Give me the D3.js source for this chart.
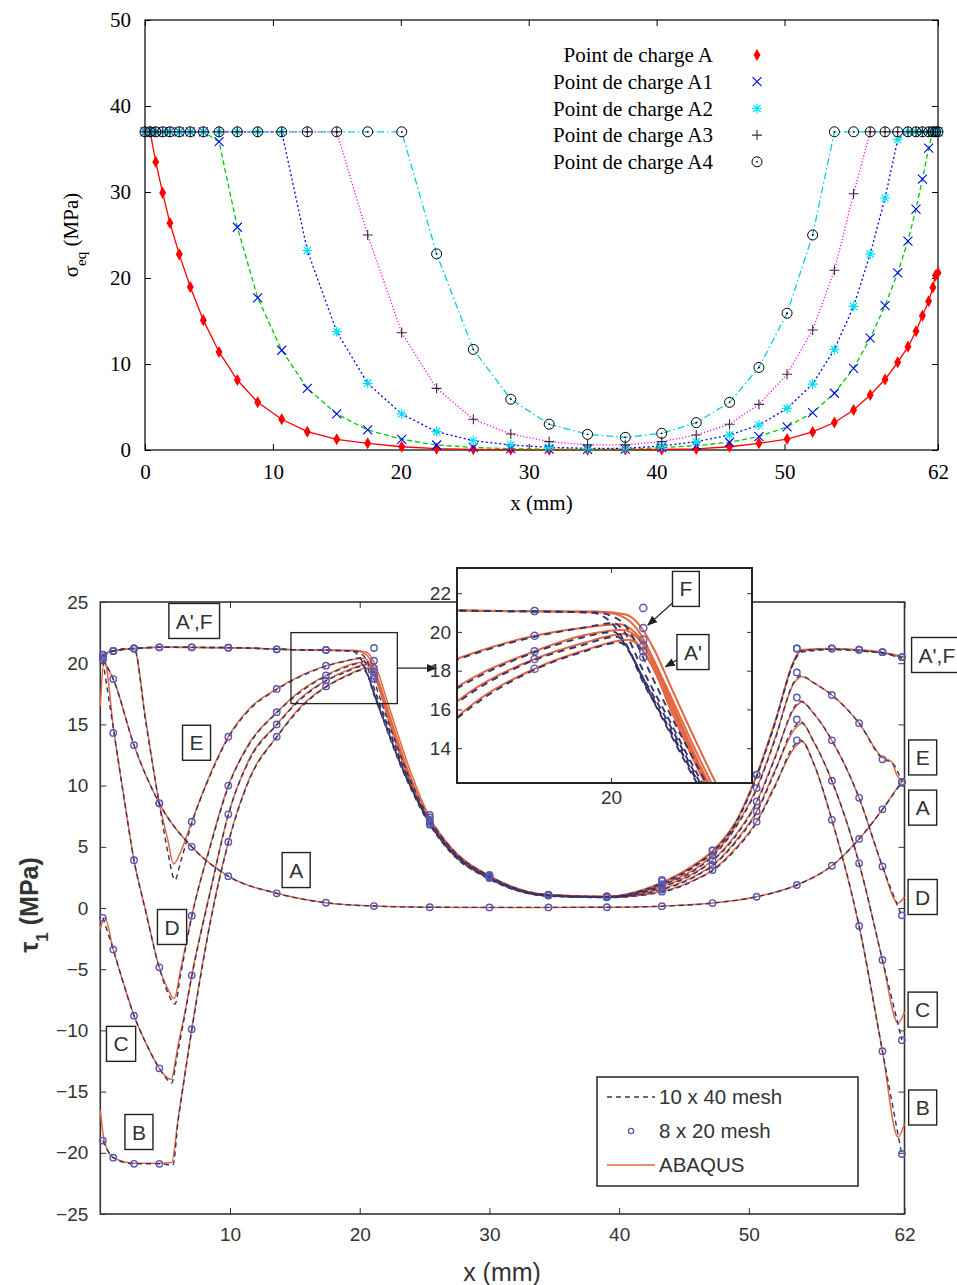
<!DOCTYPE html>
<html><head><meta charset="utf-8">
<script src="https://cdn.jsdelivr.net/npm/d3@7"></script>
<style>body{margin:0;background:#fff}svg{display:block}</style>
</head><body>
<svg id="c" width="957" height="1285"></svg>
<script>
// ---------------- TOP CHART DATA ----------------
const topX = [0,0.4,0.84,1.38,1.95,2.68,3.54,4.56,5.79,7.22,8.81,10.69,12.69,14.99,17.41,20.07,22.8,25.67,28.6,31.6,34.6,37.55,40.4,43.1,45.7,48.0,50.2,52.2,53.9,55.4,56.7,57.86,58.85,59.65,60.28,60.78,61.27,61.6,61.8,62];
const sigA  = [37,37,33.5,29.9,26.4,22.75,18.95,15.1,11.4,8.14,5.55,3.57,2.13,1.24,0.78,0.38,0.15,0.08,0.05,0.04,0.04,0.05,0.06,0.12,0.38,0.78,1.27,2.1,3.2,4.65,6.4,8.2,10.2,12.0,13.8,15.6,17.3,18.9,20.3,20.6];
const sigA1 = [37,37,37,37,37,37,37,37,35.85,25.9,17.7,11.6,7.17,4.19,2.33,1.24,0.58,0.3,0.15,0.1,0.08,0.1,0.27,0.5,0.9,1.55,2.7,4.34,6.6,9.5,13.0,16.8,20.6,24.3,28.0,31.5,35.1,37,37,37];
const sigA2 = [37,37,37,37,37,37,37,37,37,37,37,37,23.2,13.76,7.75,4.19,2.13,1.08,0.58,0.3,0.2,0.2,0.47,0.97,1.74,2.9,4.84,7.67,11.7,16.7,22.8,29.3,36.1,37,37,37,37,37,37,37];
const sigA3 = [37,37,37,37,37,37,37,37,37,37,37,37,37,37,25.0,13.64,7.17,3.57,1.86,0.97,0.6,0.6,0.97,1.74,3.0,5.3,8.8,13.95,20.9,29.8,37,37,37,37,37,37,37,37,37,37];
const sigA4 = [37,37,37,37,37,37,37,37,37,37,37,37,37,37,37,37,22.8,11.7,5.9,3.0,1.82,1.47,1.94,3.18,5.54,9.6,15.9,25.0,37,37,37,37,37,37,37,37,37,37,37,37];
const topNames = ["Point de charge A","Point de charge A1","Point de charge A2","Point de charge A3","Point de charge A4"];
const topXTicks = [0,10,20,30,40,50,62];
const topYTicks = [0,10,20,30,40,50];

// ---------------- BOTTOM CHART DATA ----------------
const abqAp = [[0,20.5],[0.4,20.8],[1,21.0],[2.6,21.2],[5,21.3],[10,21.27],[15,21.1],[19.5,21.05],[20.5,20.9],[21.0,20.3],[21.5,19.0],[22,17.3],[23,14.0],[24,10.9],[25.4,7.4],[27,5.0],[30,2.65],[34.5,1.1],[39,0.95],[43.3,2.1],[46,3.7],[47.2,4.7],[49,7.1],[50.6,10.9],[52,15.2],[53.5,20.3],[54,21.1],[56.4,21.2],[58.5,21.1],[60.3,20.9],[62,20.5]];
const abqF  = [[0,20.5],[0.4,20.8],[1,21.0],[2.6,21.2],[5,21.3],[10,21.27],[15,21.1],[19.8,21.0],[20.5,20.7],[21,19.9],[21.5,18.4],[22,16.8],[23,13.5],[24,10.5],[25.4,7.2],[27,4.9],[30,2.6],[34.5,1.08],[39,0.93],[43.3,2.0],[46,3.6],[47.2,4.6],[49,7.0],[50.6,10.8],[52,15.1],[53.5,20.2],[54,21.0],[56.4,21.15],[58.5,21.05],[60.3,20.85],[62,20.45]];
const abqE  = [[0,20.5],[0.4,20.8],[1,21.0],[2.6,21.2],[3.5,15.4],[4.55,8.55],[5.2,5.6],[5.65,3.6],[6.2,4.6],[7.05,7.05],[8.5,11.0],[9.87,14.0],[11.5,16.3],[13.6,17.9],[15.5,19.0],[17.4,19.8],[19,20.2],[20.3,20.4],[20.8,20.0],[21.3,19.0],[22,16.6],[23,13.2],[24,10.3],[25.4,7.1],[27,4.8],[30,2.55],[34.5,1.05],[39,0.92],[43.3,1.9],[46,3.3],[47.2,4.3],[49,6.7],[50.6,9.8],[52,13.8],[53.5,18.4],[54.1,18.9],[55,18.4],[56.4,17.4],[58.5,15.1],[60.3,12.3],[61,11.95],[61.5,10.7],[62,10.4]];
const abqD  = [[0,16.5],[0.3,20.3],[1.06,14.3],[1.8,9.2],[2.6,3.9],[3.5,-0.2],[4.55,-4.85],[5.2,-6.6],[5.7,-7.4],[6.2,-5.0],[7.05,-0.63],[8.5,5.2],[9.87,10.0],[11.5,13.5],[13.6,16.0],[15.5,17.8],[17.4,19.0],[19,19.8],[20.4,20.1],[20.9,19.7],[21.3,18.8],[22,16.5],[23,13.1],[24,10.2],[25.4,7.0],[27,4.75],[30,2.5],[34.5,1.03],[39,0.9],[43.3,1.75],[46,3.0],[47.2,3.9],[49,6.0],[50.6,8.7],[52,12.3],[53.5,16.3],[54.1,16.8],[55,15.9],[56.4,13.7],[58.5,9.0],[60.3,3.4],[61.5,0.4],[62,0.9]];
const abqC  = [[0,-1.7],[0.35,-0.8],[1.0,-3.4],[1.8,-6.2],[2.6,-8.8],[3.5,-11.0],[4.55,-13.1],[5.0,-13.7],[5.45,-14.0],[6.0,-11.2],[6.6,-8.1],[7.05,-5.5],[8.5,1.5],[9.87,7.65],[11.5,12.2],[13.6,15.0],[15.5,17.2],[17.4,18.6],[19,19.4],[20.5,19.9],[20.9,19.4],[21.3,18.5],[22,16.3],[23,13.0],[24,10.1],[25.4,6.95],[27,4.7],[30,2.45],[34.5,1.0],[39,0.88],[43.3,1.55],[46,2.7],[47.2,3.5],[49,5.5],[50.6,7.9],[52,11.2],[53.6,14.7],[54.1,15.1],[55,13.6],[56.4,10.4],[58.5,3.65],[60.3,-4.25],[61.5,-9.4],[62,-8.5]];
const abqB  = [[0,-16.5],[0.3,-19.0],[1.0,-20.4],[2.6,-20.85],[4.55,-20.85],[5.5,-20.8],[6.0,-17.2],[6.5,-13.7],[7.05,-9.9],[8.5,-1.0],[9.87,5.4],[11.5,10.6],[13.6,14.0],[15.5,16.5],[17.4,18.1],[19,19.0],[20.6,19.6],[21.0,19.2],[21.4,18.3],[22,16.1],[23,12.8],[24,9.9],[25.4,6.85],[27,4.6],[30,2.4],[34.5,0.98],[39,0.86],[43.3,1.35],[46,2.4],[47.2,3.1],[49,4.9],[50.6,7.05],[52,10.0],[53.6,13.2],[54.1,13.6],[55,11.8],[56.4,7.2],[58.5,-1.47],[60.3,-11.7],[61.5,-18.7],[62,-17.6]];
const abqA  = [[0,20.5],[0.35,20.0],[1.0,18.7],[2.6,13.3],[4.55,8.55],[7.05,5.0],[9.87,2.6],[13.6,1.2],[17.4,0.43],[21.1,0.16],[25.4,0.06],[30,0.05],[34.5,0.05],[39,0.06],[43.3,0.15],[47.2,0.4],[50.6,0.92],[53.7,1.88],[56.4,3.45],[58.5,5.64],[60.3,8.06],[61.5,9.9],[62,10.6]];

const m40Ap = [[0.2,20.6],[1,21.0],[2.6,21.2],[5,21.3],[10,21.27],[15,21.1],[19.5,21.0],[20.3,20.6],[20.8,19.6],[21.3,18.0],[22,15.8],[23,12.9],[24,10.2],[25.4,7.3],[27,4.95],[30,2.6],[34.5,1.08],[39,0.93],[43.3,2.05],[46,3.6],[47.2,4.6],[49,7.0],[50.6,10.8],[52,15.1],[53.5,20.2],[54,21.0],[56.4,21.15],[58.5,21.05],[60.3,20.85],[61.8,20.5]];
const m40F  = [[0.2,20.6],[1,21.0],[2.6,21.2],[5,21.3],[10,21.27],[15,21.1],[19.3,21.0],[20.0,20.5],[20.5,19.4],[21,17.9],[22,14.9],[23,12.2],[24,9.8],[25.4,7.1],[27,4.85],[30,2.55],[34.5,1.06],[39,0.92],[43.3,1.95],[46,3.5],[47.2,4.5],[49,6.9],[50.6,10.7],[52,15.0],[53.5,20.1],[54,20.9],[56.4,21.1],[58.5,21.0],[60.3,20.8],[61.8,20.4]];
const m40E  = [[0.2,20.5],[1,21.0],[2.6,21.2],[3.5,15.2],[4.55,8.5],[5.2,4.6],[5.75,2.3],[6.2,3.8],[7.05,6.9],[8.5,10.9],[9.87,13.9],[11.5,16.2],[13.6,17.85],[15.5,18.95],[17.4,19.75],[19,20.2],[20.1,20.45],[20.5,19.9],[21,18.3],[22,15.4],[23,12.5],[24,9.9],[25.4,7.0],[27,4.75],[30,2.5],[34.5,1.04],[39,0.91],[43.3,1.85],[46,3.2],[47.2,4.2],[49,6.6],[50.6,9.7],[52,13.7],[53.5,18.5],[54,19.0],[55,18.4],[56.4,17.4],[58.5,15.1],[60.3,12.2],[61.1,11.8],[61.8,10.3]];
const m40D  = [[0.2,20.2],[1.06,14.3],[1.8,9.2],[2.6,3.9],[3.5,-0.3],[4.55,-4.9],[5.2,-6.9],[5.75,-7.85],[6.2,-5.4],[7.05,-0.7],[8.5,5.1],[9.87,9.9],[11.5,13.4],[13.6,15.95],[15.5,17.7],[17.4,18.95],[19,19.7],[20.1,20.0],[20.5,19.3],[21,17.9],[22,15.2],[23,12.3],[24,9.8],[25.4,6.95],[27,4.7],[30,2.45],[34.5,1.02],[39,0.89],[43.3,1.7],[46,2.95],[47.2,3.85],[49,5.9],[50.6,8.6],[52,12.2],[53.5,16.4],[54,16.9],[55,15.9],[56.4,13.7],[58.5,9.0],[60.3,3.4],[61.8,-0.7]];
const m40C  = [[0.2,-0.8],[1.0,-3.4],[1.8,-6.2],[2.6,-8.8],[3.5,-11.0],[4.55,-13.1],[5.0,-13.8],[5.5,-14.3],[5.9,-12.2],[6.4,-9.4],[7.05,-5.6],[8.5,1.4],[9.87,7.6],[11.5,12.1],[13.6,14.95],[15.5,17.1],[17.4,18.55],[19,19.3],[20.2,19.75],[20.6,19.1],[21,17.7],[22,15.0],[23,12.1],[24,9.7],[25.4,6.9],[27,4.65],[30,2.4],[34.5,0.99],[39,0.87],[43.3,1.5],[46,2.65],[47.2,3.45],[49,5.4],[50.6,7.8],[52,11.1],[53.5,14.8],[54,15.2],[55,13.6],[56.4,10.4],[58.5,3.65],[60.3,-4.25],[61.8,-10.8]];
const m40B  = [[0.2,-19.0],[1.0,-20.4],[2.6,-20.9],[4.55,-20.9],[5.6,-21.0],[6.0,-17.4],[6.5,-13.8],[7.05,-10.0],[8.5,-1.1],[9.87,5.3],[11.5,10.5],[13.6,13.95],[15.5,16.4],[17.4,18.05],[19,18.95],[20.3,19.45],[20.7,18.8],[21.1,17.5],[22,14.8],[23,12.0],[24,9.6],[25.4,6.8],[27,4.55],[30,2.35],[34.5,0.97],[39,0.85],[43.3,1.3],[46,2.35],[47.2,3.05],[49,4.8],[50.6,7.0],[52,9.9],[53.5,13.3],[54,13.7],[55,11.8],[56.4,7.2],[58.5,-1.47],[60.3,-11.7],[61.8,-20.2]];
const m40A  = [[0.2,20.3],[1.0,18.7],[2.6,13.3],[4.55,8.55],[7.05,5.0],[9.87,2.6],[13.6,1.2],[17.4,0.43],[21.1,0.16],[25.4,0.06],[30,0.05],[34.5,0.05],[39,0.06],[43.3,0.15],[47.2,0.4],[50.6,0.92],[53.7,1.88],[56.4,3.45],[58.5,5.64],[60.3,8.06],[61.8,10.3]];

const grid20 = [0.2,1.0,2.6,4.55,7.05,9.87,13.6,17.4,21.1,25.4,30.0,34.55,39.05,43.3,47.2,50.6,53.7,56.4,58.5,60.3,61.8];
const m20Ap = [20.7,21.0,21.2,21.3,21.3,21.27,21.13,21.08,21.24,7.6,2.7,1.1,0.95,2.3,4.7,10.9,21.2,21.2,21.1,20.9,20.5];
const m20F  = [20.7,21.0,21.2,21.3,21.3,21.27,21.13,21.08,20.2,7.4,2.65,1.08,0.94,2.2,4.7,10.9,21.2,21.2,21.1,20.9,20.5];
const m20E  = [20.5,21.0,21.2,8.55,7.05,14.0,17.9,19.8,19.6,7.2,2.6,1.06,0.93,1.95,4.3,9.8,19.25,17.4,15.1,12.15,10.3];
const m20D  = [20.3,14.3,3.9,-4.85,-0.63,10.0,16.0,19.0,19.3,7.05,2.55,1.05,0.92,1.7,3.9,8.7,17.2,13.7,9.0,3.4,-0.6];
const m20C  = [-0.8,-3.4,-8.8,-13.1,-5.5,7.65,15.0,18.6,19.0,6.9,2.5,1.04,0.9,1.5,3.5,7.9,15.4,10.4,3.65,-4.25,-10.8];
const m20B  = [-19.0,-20.4,-20.9,-20.9,-9.9,5.4,14.0,18.1,18.7,6.8,2.45,1.02,0.88,1.33,3.1,7.05,13.7,7.2,-1.47,-11.7,-20.1];
const m20A  = [20.3,18.7,13.3,8.55,5.0,2.6,1.2,0.43,0.16,0.06,0.05,0.05,0.06,0.15,0.4,0.92,1.88,3.45,5.64,8.06,10.3];

const botXTicks = [10,20,30,40,50,62];
const botYTicks = [25,20,15,10,5,0,-5,-10,-15,-20,-25];
const insetYTicks = [14,16,18,20,22];
const insetXTicks = [20];
const legendNames = ["10 x 40 mesh","8 x 20 mesh","ABAQUS"];
const curveLabels = [
  {t:"A',F",x:7.24,y:23.45},{t:"E",x:7.42,y:13.5},{t:"A",x:15.1,y:3.1},{t:"D",x:5.53,y:-1.55},
  {t:"C",x:1.6,y:-11.1},{t:"B",x:2.98,y:-18.3},
  {t:"A',F",x:64.5,y:20.67},{t:"E",x:63.4,y:12.3},{t:"A",x:63.4,y:8.2},{t:"D",x:63.4,y:0.9},
  {t:"C",x:63.4,y:-8.3},{t:"B",x:63.4,y:-16.3}];
const insetLabels = [{t:"F",x:22.55,y:22.22,ax:21.12,ay:20.3},{t:"A'",x:22.79,y:18.96,ax:21.72,ay:18.15}];
const zoomBox = {x0:14.7,x1:22.9,y0:16.7,y1:22.5,arrowTo:25.9};

// ---------------- DRAW ----------------
const svg = d3.select("#c");
const serif = "'Liberation Serif','Times New Roman',serif";
const sans = "'Liberation Sans',Arial,sans-serif";

// ===== TOP =====
const xT = d3.scaleLinear().domain([0,62]).range([145,938]);
const yT = d3.scaleLinear().domain([0,50]).range([450,20]);
const gT = svg.append("g");
function styleAxis(g, font, size, color){
  g.select(".domain").remove();
  g.selectAll("text").attr("font-family",font).attr("font-size",size).attr("fill",color);
  g.selectAll("line").attr("stroke",color);
}
gT.append("g").attr("transform","translate(0,450)")
  .call(d3.axisBottom(xT).tickValues(topXTicks).tickSizeInner(-6).tickSizeOuter(0).tickPadding(14))
  .call(g=>styleAxis(g,serif,21,"#000"));
gT.append("g").attr("transform","translate(0,20)")
  .call(d3.axisTop(xT).tickValues(topXTicks).tickSizeInner(-6).tickSizeOuter(0).tickFormat(""))
  .call(g=>styleAxis(g,serif,21,"#000"));
gT.append("g").attr("transform","translate(145,0)")
  .call(d3.axisLeft(yT).tickValues(topYTicks).tickSizeInner(-6).tickSizeOuter(0).tickPadding(14))
  .call(g=>styleAxis(g,serif,21,"#000"));
gT.append("g").attr("transform","translate(938,0)")
  .call(d3.axisRight(yT).tickValues(topYTicks).tickSizeInner(-6).tickSizeOuter(0).tickFormat(""))
  .call(g=>styleAxis(g,serif,21,"#000"));
gT.append("rect").attr("x",xT(0)).attr("y",yT(50)).attr("width",xT(62)-xT(0)).attr("height",yT(0)-yT(50))
  .attr("fill","none").attr("stroke","#000").attr("stroke-width",1.2);

gT.append("text").attr("x",(xT(0)+xT(62))/2).attr("y",510).attr("text-anchor","middle")
  .attr("font-family",serif).attr("font-size",21).text("x (mm)");
const yl = gT.append("text").attr("transform","translate(78,235) rotate(-90)").attr("text-anchor","middle")
  .attr("font-family",serif).attr("font-size",21);
yl.append("tspan").text("σ");
yl.append("tspan").attr("baseline-shift","sub").attr("font-size",15).text("eq");
yl.append("tspan").text(" (MPa)");

const topSeries = [
  {v:sigA,  line:"#ff0000", dash:null,      mk:"diamond", mc:"#ff0000"},
  {v:sigA1, line:"#00c800", dash:"5,3",     mk:"x",       mc:"#0000ff"},
  {v:sigA2, line:"#0000ff", dash:"2,2.5",   mk:"star",    mc:"#00e0f0"},
  {v:sigA3, line:"#ff00ff", dash:"1.2,2",   mk:"plus",    mc:"#3a2a3a"},
  {v:sigA4, line:"#00d0e0", dash:"7,3,1.5,3", mk:"circ",  mc:"#000"}
];
function marker(g, type, color, cx, cy){
  const t = `translate(${cx},${cy})`;
  if(type==="diamond") g.append("path").attr("d",d3.symbol(d3.symbolDiamond,42)()).attr("transform",t).attr("fill",color);
  else if(type==="x") g.append("path").attr("d","M-4.5,-4.5L4.5,4.5M-4.5,4.5L4.5,-4.5").attr("transform",t).attr("stroke",color).attr("stroke-width",1.1).attr("fill","none");
  else if(type==="star") g.append("path").attr("d","M-5,0H5M0,-5V5M-3.6,-3.6L3.6,3.6M-3.6,3.6L3.6,-3.6").attr("transform",t).attr("stroke",color).attr("stroke-width",1.2).attr("fill","none");
  else if(type==="plus") g.append("path").attr("d","M-5,0H5M0,-5V5").attr("transform",t).attr("stroke",color).attr("stroke-width",1.1).attr("fill","none");
  else if(type==="circ"){
    g.append("circle").attr("cx",cx).attr("cy",cy).attr("r",5).attr("fill","none").attr("stroke",color).attr("stroke-width",1);
    g.append("circle").attr("cx",cx).attr("cy",cy).attr("r",0.9).attr("fill",color);
  }
}
const lineT = d3.line().x((d,i)=>xT(topX[i])).y(d=>yT(d));
topSeries.forEach(s=>{
  gT.append("path").attr("d",lineT(s.v)).attr("fill","none").attr("stroke",s.line)
    .attr("stroke-width",1.3).attr("stroke-dasharray",s.dash);
});
topSeries.forEach(s=>{
  const gm = gT.append("g");
  s.v.forEach((v,i)=>marker(gm,s.mk,s.mc,xT(topX[i]),yT(v)));
});
topNames.forEach((n,i)=>{
  const yy = 55 + i*26.7;
  gT.append("text").attr("x",713).attr("y",yy).attr("dy","0.35em").attr("text-anchor","end")
    .attr("font-family",serif).attr("font-size",21).text(n);
  marker(gT, topSeries[i].mk, topSeries[i].mc, 757, yy);
});

// ===== BOTTOM =====
const xB = d3.scaleLinear().domain([0,62]).range([100.3,904.5]);
const yB = d3.scaleLinear().domain([-25,25]).range([1214,602]);
const gB = svg.append("g");
const txtC = "#333";
gB.append("g").attr("transform",`translate(0,${yB(-25)})`)
  .call(d3.axisBottom(xB).tickValues(botXTicks).tickSizeInner(-6).tickSizeOuter(0).tickPadding(14))
  .call(g=>styleAxis(g,sans,19,txtC));
gB.append("g").attr("transform",`translate(0,${yB(25)})`)
  .call(d3.axisTop(xB).tickValues(botXTicks).tickSizeInner(-6).tickSizeOuter(0).tickFormat(""))
  .call(g=>styleAxis(g,sans,19,txtC));
gB.append("g").attr("transform",`translate(${xB(0)},0)`)
  .call(d3.axisLeft(yB).tickValues(botYTicks).tickSizeInner(-6).tickSizeOuter(0).tickPadding(12))
  .call(g=>styleAxis(g,sans,19,txtC));
gB.append("g").attr("transform",`translate(${xB(62)},0)`)
  .call(d3.axisRight(yB).tickValues(botYTicks).tickSizeInner(-6).tickSizeOuter(0).tickFormat(""))
  .call(g=>styleAxis(g,sans,19,txtC));
gB.append("rect").attr("x",xB(0)).attr("y",yB(25)).attr("width",xB(62)-xB(0)).attr("height",yB(-25)-yB(25))
  .attr("fill","none").attr("stroke","#333").attr("stroke-width",1.6);

gB.append("text").attr("x",502).attr("y",1281).attr("text-anchor","middle")
  .attr("font-family",sans).attr("font-size",25).attr("fill",txtC).text("x (mm)");
const yl2 = gB.append("text").attr("transform","translate(38,905) rotate(-90)").attr("text-anchor","middle")
  .attr("font-family",sans).attr("font-size",25).attr("font-weight","bold").attr("fill",txtC);
yl2.append("tspan").text("τ");
yl2.append("tspan").attr("baseline-shift","sub").attr("font-size",17).text("1");
yl2.append("tspan").text(" (MPa)");

const curves = [
  {abq:abqA, m40:m40A, m20:m20A},{abq:abqB, m40:m40B, m20:m20B},{abq:abqC, m40:m40C, m20:m20C},
  {abq:abqD, m40:m40D, m20:m20D},{abq:abqE, m40:m40E, m20:m20E},{abq:abqF, m40:m40F, m20:m20F},
  {abq:abqAp, m40:m40Ap, m20:m20Ap}];
const ABQ = "#e4673f", M40 = "#34346a", M20 = "#5858b0";

function drawCurves(g, xs, ys, lw, r){
  const ln = d3.line().x(d=>xs(d[0])).y(d=>ys(d[1])).curve(d3.curveMonotoneX);
  curves.forEach(c=>g.append("path").attr("d",ln(c.abq)).attr("fill","none").attr("stroke",ABQ).attr("stroke-width",lw));
  curves.forEach(c=>g.append("path").attr("d",ln(c.m40)).attr("fill","none").attr("stroke",M40)
      .attr("stroke-width",lw*0.95).attr("stroke-dasharray",`${lw*3.4},${lw*2.6}`));
  curves.forEach(c=>c.m20.forEach((v,i)=>g.append("circle").attr("cx",xs(grid20[i])).attr("cy",ys(v))
      .attr("r",r).attr("fill","none").attr("stroke",M20).attr("stroke-width",1.4)));
}
const gCurves = gB.append("g");
drawCurves(gCurves, xB, yB, 1.5, 3.2);

// labels in boxes
function boxLabel(g, t, cx, cy, fs, h){
  const tx = g.append("text").attr("x",cx).attr("y",cy).attr("dy","0.36em").attr("text-anchor","middle")
    .attr("font-family",sans).attr("font-size",fs).attr("fill",txtC).text(t);
  const w = tx.node().getComputedTextLength()+14;
  g.insert("rect","text:last-child").attr("x",cx-w/2).attr("y",cy-h/2).attr("width",w).attr("height",h)
    .attr("fill","#fff").attr("stroke","#222").attr("stroke-width",1.4);
  return w;
}
curveLabels.forEach(l=>{
  const gl = gB.append("g");
  boxLabel(gl, l.t, xB(l.x), yB(l.y), 21, 35);
});

// zoom rectangle and arrow
gB.append("rect").attr("x",xB(zoomBox.x0)).attr("y",yB(zoomBox.y1))
  .attr("width",xB(zoomBox.x1)-xB(zoomBox.x0)).attr("height",yB(zoomBox.y0)-yB(zoomBox.y1))
  .attr("fill","none").attr("stroke","#222").attr("stroke-width",1.3);
const defs = svg.append("defs");
defs.append("marker").attr("id","ah").attr("viewBox","0 0 10 10").attr("refX",9).attr("refY",5)
  .attr("markerWidth",8).attr("markerHeight",8).attr("orient","auto-start-reverse")
  .append("path").attr("d","M0,1L10,5L0,9z").attr("fill","#222");
const ym = yB((zoomBox.y0+zoomBox.y1)/2);
gB.append("line").attr("x1",xB(zoomBox.x1)).attr("y1",ym).attr("x2",xB(zoomBox.arrowTo)).attr("y2",ym)
  .attr("stroke","#222").attr("stroke-width",1.3).attr("marker-end","url(#ah)");

// legend
const lg = gB.append("g");
lg.append("rect").attr("x",597).attr("y",1077).attr("width",261).attr("height",109)
  .attr("fill","#fff").attr("stroke","#333").attr("stroke-width",1.6);
legendNames.forEach((n,i)=>{
  const yy = 1097 + i*34;
  if(i===0) lg.append("line").attr("x1",607).attr("x2",655).attr("y1",yy).attr("y2",yy).attr("stroke",M40).attr("stroke-width",1.5).attr("stroke-dasharray","5,4");
  if(i===1) lg.append("circle").attr("cx",631).attr("cy",yy).attr("r",2.6).attr("fill","none").attr("stroke",M20).attr("stroke-width",1.3);
  if(i===2) lg.append("line").attr("x1",607).attr("x2",655).attr("y1",yy).attr("y2",yy).attr("stroke",ABQ).attr("stroke-width",1.5);
  lg.append("text").attr("x",659).attr("y",yy).attr("dy","0.36em").attr("font-family",sans).attr("font-size",20.5)
    .attr("fill",txtC).text(n);
});

// ===== INSET =====
const xI = d3.scaleLinear().domain([14.76,24.8]).range([457,752]);
const yI = d3.scaleLinear().domain([12.2,23.3]).range([783,568]);
const gI = svg.append("g");
defs.append("clipPath").attr("id","ic").append("rect").attr("x",457).attr("y",568).attr("width",295).attr("height",215);
gI.append("rect").attr("x",457).attr("y",568).attr("width",295).attr("height",215).attr("fill","#fff");
const gIc = gI.append("g").attr("clip-path","url(#ic)");
drawCurves(gIc, xI, yI, 2.0, 3.6);
gI.append("g").attr("transform","translate(457,0)")
  .call(d3.axisLeft(yI).tickValues(insetYTicks).tickSizeInner(-5).tickSizeOuter(0).tickPadding(6))
  .call(g=>styleAxis(g,sans,19,txtC));
gI.append("g").attr("transform","translate(752,0)")
  .call(d3.axisRight(yI).tickValues(insetYTicks).tickSizeInner(-5).tickSizeOuter(0).tickFormat(""))
  .call(g=>styleAxis(g,sans,19,txtC));
gI.append("g").attr("transform","translate(0,783)")
  .call(d3.axisBottom(xI).tickValues(insetXTicks).tickSizeInner(-5).tickSizeOuter(0).tickPadding(8))
  .call(g=>styleAxis(g,sans,19,txtC));
gI.append("g").attr("transform","translate(0,568)")
  .call(d3.axisTop(xI).tickValues(insetXTicks).tickSizeInner(-5).tickSizeOuter(0).tickFormat(""))
  .call(g=>styleAxis(g,sans,19,txtC));
gI.append("rect").attr("x",457).attr("y",568).attr("width",295).attr("height",215)
  .attr("fill","none").attr("stroke","#222").attr("stroke-width",2);
insetLabels.forEach(l=>{
  const gl = gI.append("g");
  const cx = xI(l.x), cy = yI(l.y);
  const w = boxLabel(gl, l.t, cx, cy, 21, 35);
  gI.append("line").attr("x1",cx-w/2).attr("y1",cy+ (l.t==="F"?14:8)).attr("x2",xI(l.ax)+4).attr("y2",yI(l.ay)-1)
    .attr("stroke","#222").attr("stroke-width",1.3).attr("marker-end","url(#ah)");
});
</script>
</body></html>
